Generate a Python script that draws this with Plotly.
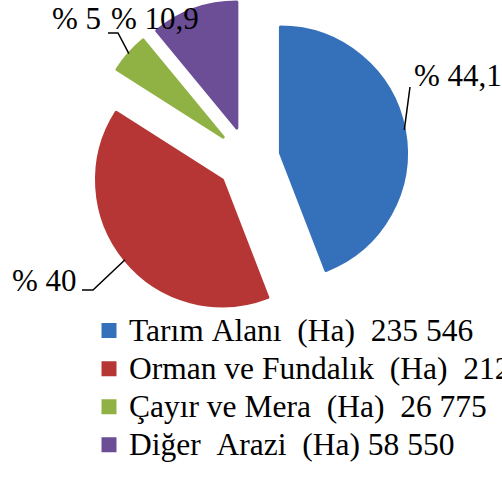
import math
import plotly.graph_objects as go

# ---- data ----
categories = ["Tarım Alanı  (Ha)", "Orman ve Fundalık  (Ha)", "Çayır ve Mera  (Ha)", "Diğer  Arazi  (Ha)"]
areas = [235546, 212846, 26775, 58550]
value_sep = ["  ", "  ", "  ", " "]
pct_labels = ["% 44,1", "% 40", "% 5", "% 10,9"]

# ---- style / layout constants ----
colors = ["#3570ba", "#b53634", "#90b244", "#6c4e97"]
W, H = 502, 478
FONT = "Liberation Serif, Times New Roman, serif"
cx_px, cy_px = 248, 159      # pie centre (px)
r_px = 126
off_px = 33
pull = off_px / r_px
R_px = r_px + off_px          # r * (1 + pull)

half_w = min(cx_px, W - cx_px) - 1
dom_x = [(cx_px - half_w) / W, (cx_px + half_w) / W]
dom_y = [1 - (cy_px + R_px) / H, 1 - (cy_px - R_px) / H]


def fmt(v):
    return f"{v:,}".replace(",", " ")


def nb(s):
    return s.replace(" ", "\u00a0")


legend_labels = [
    f"<span style='font-size:31.5px'>{nb(c + sep + fmt(v))}</span>"
    for c, sep, v in zip(categories, value_sep, areas)
]


def px2paper(x, y):
    return x / W, 1 - y / H


fig = go.Figure()
fig.add_trace(go.Pie(
    labels=legend_labels,
    values=areas,
    sort=False,
    direction="clockwise",
    rotation=0,
    pull=[pull] * len(areas),
    marker=dict(colors=colors, line=dict(color=colors, width=3)),
    textinfo="none",
    hoverinfo="none",
    domain=dict(x=dom_x, y=dom_y),
    automargin=False,
))

# label positions (px, left / vertical middle) and leader-line elbows
label_pos = [(412, 76), (10, 280), (50, 18), (109, 18)]
leader_pts = [[(410, 87)], [(93, 290), (82, 290)], [(118, 33), (108, 33)], []]

total = sum(areas)
cum = 0
annotations = []
shapes = []
for i, v in enumerate(areas):
    frac = v / total
    theta = 2 * math.pi * (cum + frac / 2)
    cum += frac
    ox = cx_px + R_px * math.sin(theta)
    oy = cy_px - R_px * math.cos(theta)
    lx, ly = label_pos[i]
    px, py = px2paper(lx, ly)
    annotations.append(dict(
        x=px, y=py, xref="paper", yref="paper", xanchor="left", yanchor="middle",
        text=pct_labels[i], showarrow=False,
        font=dict(family=FONT, size=31, color="black"),
    ))
    if leader_pts[i]:
        pts = [(ox, oy)] + leader_pts[i]
        path = ""
        for j, (x, y) in enumerate(pts):
            qx, qy = px2paper(x, y)
            path += ("M" if j == 0 else " L") + f" {qx:.5f} {qy:.5f}"
        shapes.append(dict(type="path", path=path, xref="paper", yref="paper",
                           line=dict(color="black", width=1.5)))

leg_left, leg_top = 89, 306.5
lx, ly = px2paper(leg_left, leg_top)
fig.update_layout(
    width=W, height=H,
    margin=dict(l=0, r=0, t=0, b=0, autoexpand=False),
    paper_bgcolor="white", plot_bgcolor="white",
    showlegend=True,
    legend=dict(x=lx, y=ly, xanchor="left", yanchor="top",
                font=dict(family=FONT, size=27, color="black"),
                bgcolor="rgba(0,0,0,0)", borderwidth=0, traceorder="normal"),
    annotations=annotations,
    shapes=shapes,
)
fig.write_html("out.html", config={"displayModeBar": False},
               post_script="document.body.style.margin='0';")
